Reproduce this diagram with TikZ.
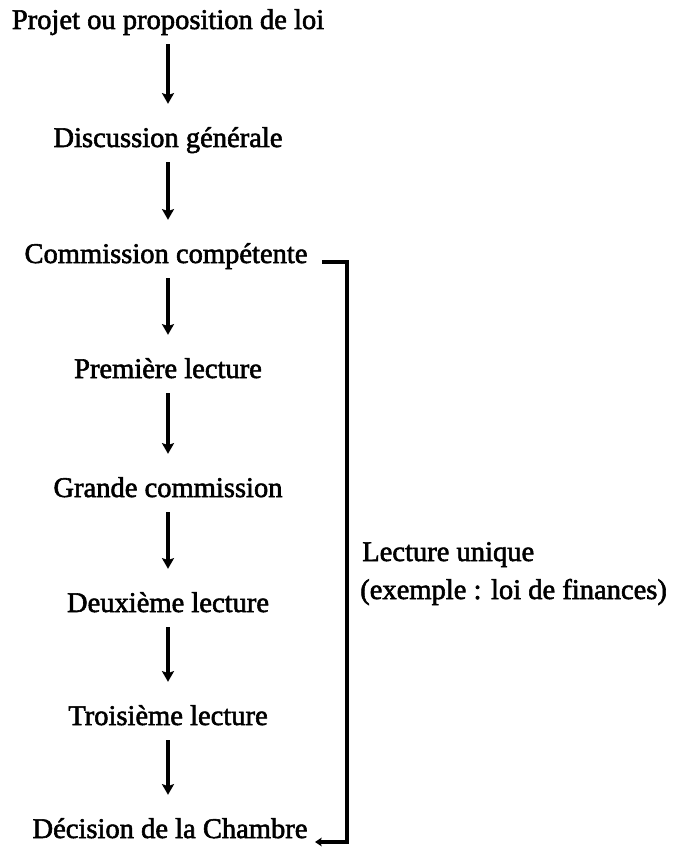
\documentclass[tikz,border=0pt]{standalone}
\usepackage{fontspec}
\setmainfont{Liberation Serif}[FakeBold=2]
\usetikzlibrary{arrows.meta}
\begin{document}
\begin{tikzpicture}[x=0.75pt,y=-0.75pt,
  lbl/.style={anchor=base, inner sep=0pt, font=\fontsize{21.4}{26}\selectfont, text height=14pt, text depth=4.5pt},
  side/.style={lbl, anchor=base west},
  flow/.style={line width=2.4pt, -{Stealth[width=9pt,length=8pt,inset=1.5pt]}, shorten <=6.75pt, shorten >=18.2pt},
  brk/.style={line width=2.3pt, -{Stealth[width=6.5pt,length=5pt,inset=1pt]}}
]
\fill[white] (0,0) rectangle (683,848);
\useasboundingbox (0,0) rectangle (683,848);
\node[lbl] (n1) at (168,29) {Projet ou proposition de loi};
\node[lbl] (n2) at (168,147) {Discussion générale};
\node[lbl] (n3) at (166,263) {Commission compétente};
\node[lbl] (n4) at (168,378) {Première lecture};
\node[lbl] (n5) at (168,497) {Grande commission};
\node[lbl] (n6) at (168,612) {Deuxième lecture};
\node[lbl] (n7) at (168,725) {Troisième lecture};
\node[lbl] (n8) at (170,838) {Décision de la Chambre};
\node[side] (lu) at (362,561) {Lecture unique};
\node[side] (ex) at (360,599) {(exemple : loi de finances)};
\draw[flow] (n1.south -| 168,0) -- (n2.north -| 168,0);
\draw[flow] (n2.south -| 168,0) -- (n3.north -| 168,0);
\draw[flow] (n3.south -| 168,0) -- (n4.north -| 168,0);
\draw[flow] (n4.south -| 168,0) -- (n5.north -| 168,0);
\draw[flow] (n5.south -| 168,0) -- (n6.north -| 168,0);
\draw[flow] (n6.south -| 168,0) -- (n7.north -| 168,0);
\draw[flow] (n7.south -| 168,0) -- (n8.north -| 168,0);
\coordinate (t1) at (322,262);
\coordinate (t2) at (347,262);
\coordinate (b2) at (347,842);
\coordinate (b1) at (315,842);
\draw[brk] (t1) -- (t2) -- (b2) -- (b1);
\end{tikzpicture}
\end{document}
